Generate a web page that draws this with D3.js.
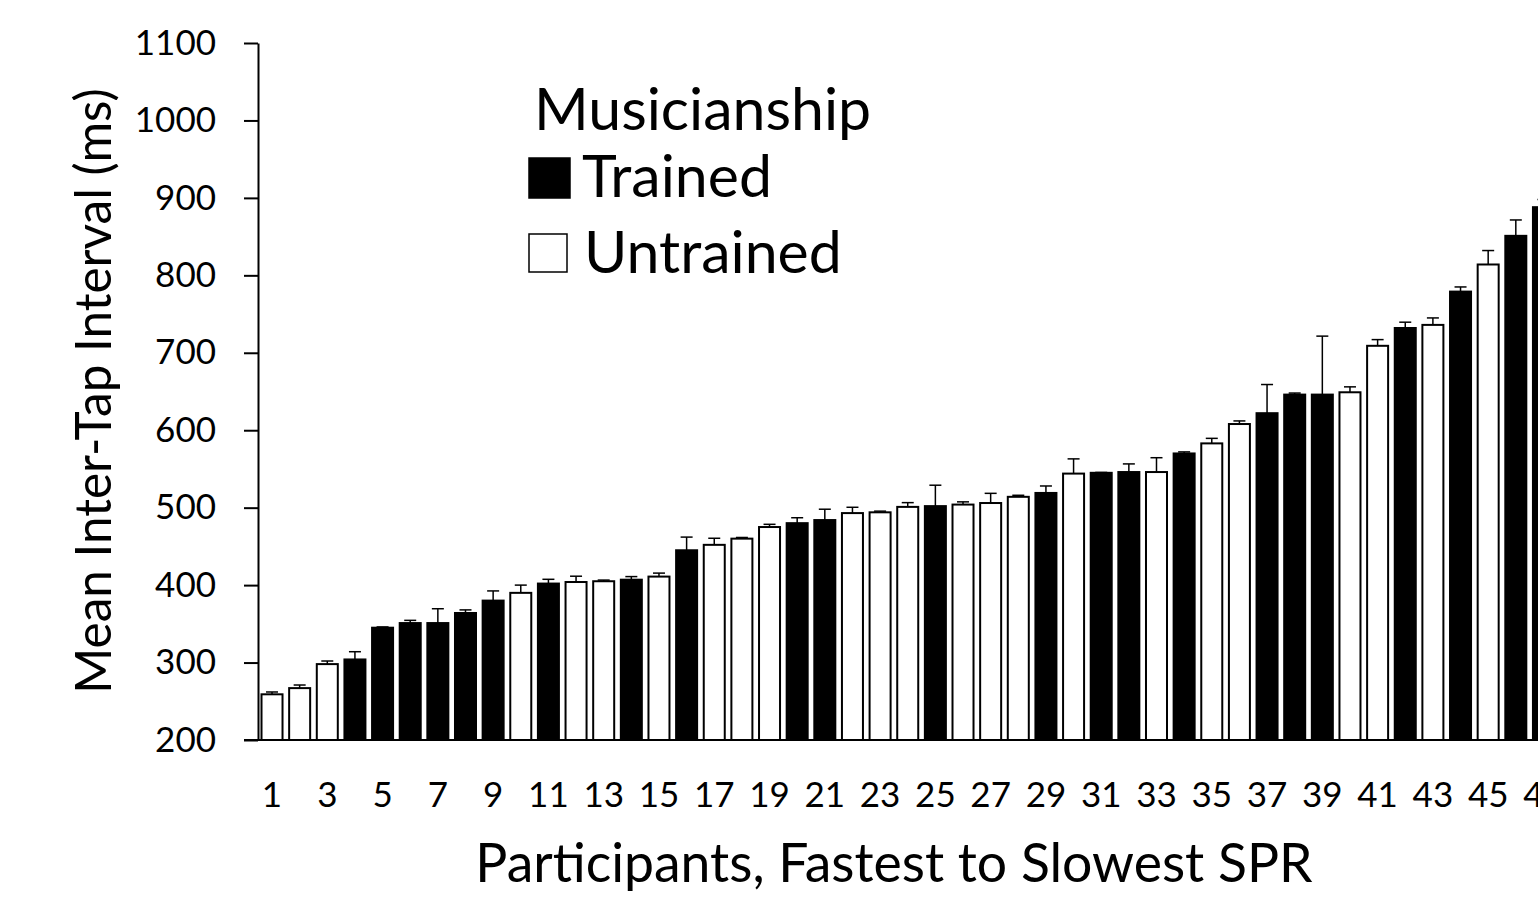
<!DOCTYPE html>
<html>
<head>
<meta charset="utf-8">
<script src="https://cdn.jsdelivr.net/npm/d3@7"></script>
<style>
  body { margin: 0; background: #fff; }
  svg { display: block; font-family: Lato, sans-serif; }
</style>
</head>
<body>
<svg id="chart" width="1538" height="903"></svg>
<script>
// Datos (participantes ordenados de mas rapido a mas lento)
const participants = d3.range(1, 48);
const meanITI = [
  259, 267, 298, 304, 345, 351, 351, 364, 380, 390,
  402, 404, 405, 407, 411, 445, 452, 460, 475, 480,
  484, 493, 494, 501, 502, 504, 506, 514, 519, 544,
  545, 546, 546, 570, 583, 608, 622, 646, 646, 649,
  709, 732, 736, 779, 814, 851, 888
];
const errorSE = [
  3, 4, 4, 10, 1, 3.5, 18.5, 4, 12.5, 10,
  5.5, 7.5, 1.5, 4, 4.5, 17, 8.5, 1.5, 3.5, 7,
  14, 7.5, 1.5, 5.5, 27, 3.5, 12.5, 2, 9, 19,
  0.5, 10.5, 18.5, 2, 6.5, 4, 37, 2, 75.5, 7,
  8, 7.5, 9, 6, 18, 20.5, 10
];
// T = entrenado (musico), U = no entrenado
const musicianship = [
  'U', 'U', 'U', 'T', 'T', 'T', 'T', 'T', 'T', 'U',
  'T', 'U', 'U', 'T', 'U', 'T', 'U', 'U', 'U', 'T',
  'T', 'U', 'U', 'U', 'T', 'U', 'U', 'U', 'T', 'U',
  'T', 'T', 'U', 'T', 'U', 'U', 'T', 'T', 'T', 'U',
  'U', 'T', 'U', 'T', 'U', 'T', 'T'
];
const yTicks = [200, 300, 400, 500, 600, 700, 800, 900, 1000, 1100];
const xTickLabels = participants.filter(d => d % 2 === 1);
const legendItems = [
  { key: 'T', label: 'Trained' },
  { key: 'U', label: 'Untrained' }
];

const data = participants.map((p, i) => ({
  id: p, value: meanITI[i], err: errorSE[i], group: musicianship[i]
}));

const svg = d3.select('#chart');
const plotLeft = 258, plotTop = 43, plotBottom = 740;
const step = 27.64;
const pIn = 0.24, pOut = 0.127;

const x = d3.scaleBand()
  .domain(participants)
  .range([plotLeft, plotLeft + step * (participants.length - pIn + 2 * pOut)])
  .paddingInner(pIn)
  .paddingOuter(pOut);

const y = d3.scaleLinear()
  .domain([200, 1100])
  .range([plotBottom, plotTop]);

// Barras
svg.append('g')
  .selectAll('rect')
  .data(data)
  .enter()
  .append('rect')
  .attr('x', d => x(d.id))
  .attr('y', d => y(d.value))
  .attr('width', x.bandwidth())
  .attr('height', d => y(200) - y(d.value))
  .attr('fill', d => d.group === 'T' ? '#000' : '#fff')
  .attr('stroke', '#000')
  .attr('stroke-width', 2);

// Barras de error (solo hacia arriba)
const eb = svg.append('g')
  .attr('stroke', '#000')
  .attr('stroke-width', 1.5);

eb.selectAll('line.v')
  .data(data)
  .enter()
  .append('line')
  .attr('class', 'v')
  .attr('x1', d => x(d.id) + x.bandwidth() / 2)
  .attr('x2', d => x(d.id) + x.bandwidth() / 2)
  .attr('y1', d => y(d.value))
  .attr('y2', d => y(d.value + d.err));

eb.selectAll('line.cap')
  .data(data)
  .enter()
  .append('line')
  .attr('class', 'cap')
  .attr('x1', d => x(d.id) + x.bandwidth() / 2 - 6)
  .attr('x2', d => x(d.id) + x.bandwidth() / 2 + 6)
  .attr('y1', d => y(d.value + d.err))
  .attr('y2', d => y(d.value + d.err));

// Eje Y
const yAxis = svg.append('g')
  .attr('transform', `translate(${plotLeft},0)`)
  .call(d3.axisLeft(y).tickValues(yTicks).tickFormat(d3.format('d'))
    .tickSize(14).tickSizeOuter(0).tickPadding(28));
yAxis.select('.domain').attr('stroke-width', 2);
yAxis.selectAll('.tick line').attr('stroke-width', 2);
yAxis.selectAll('.tick text')
  .attr('font-family', 'Lato, sans-serif')
  .attr('font-size', 35)
  .attr('fill', '#000');

// Eje X (linea base y etiquetas impares)
svg.append('line')
  .attr('x1', plotLeft - 14)
  .attr('x2', 1538)
  .attr('y1', plotBottom)
  .attr('y2', plotBottom)
  .attr('stroke', '#000')
  .attr('stroke-width', 2);

const xAxis = svg.append('g')
  .attr('transform', `translate(0,${plotBottom})`)
  .call(d3.axisBottom(x).tickValues(xTickLabels).tickSize(0).tickPadding(42));
xAxis.select('.domain').remove();
xAxis.selectAll('.tick text')
  .attr('font-family', 'Lato, sans-serif')
  .attr('font-size', 35)
  .attr('fill', '#000');

// Titulos de ejes
svg.append('text')
  .attr('transform', 'translate(111,391) rotate(-90)')
  .attr('text-anchor', 'middle')
  .attr('font-size', 49.5)
  .text('Mean Inter-Tap Interval (ms)');

svg.append('text')
  .attr('x', 894)
  .attr('y', 882)
  .attr('text-anchor', 'middle')
  .attr('font-size', 53.5)
  .text('Participants, Fastest to Slowest SPR');

// Leyenda
const legend = svg.append('g');
legend.append('text')
  .attr('x', 534)
  .attr('y', 130)
  .attr('font-size', 59)
  .text('Musicianship');

const li = legend.selectAll('g.item')
  .data(legendItems)
  .enter()
  .append('g')
  .attr('class', 'item')
  .attr('transform', (d, i) => `translate(0,${i * 76})`);

li.append('rect')
  .attr('x', 529)
  .attr('y', 158)
  .attr('width', d => d.key === 'T' ? 41 : 38)
  .attr('height', d => d.key === 'T' ? 40 : 38)
  .attr('fill', d => d.key === 'T' ? '#000' : '#fff')
  .attr('stroke', '#000')
  .attr('stroke-width', 1.5);

li.append('text')
  .attr('x', (d, i) => i === 0 ? 582 : 584)
  .attr('y', 197)
  .attr('font-size', 59)
  .text(d => d.label);
</script>
</body>
</html>
